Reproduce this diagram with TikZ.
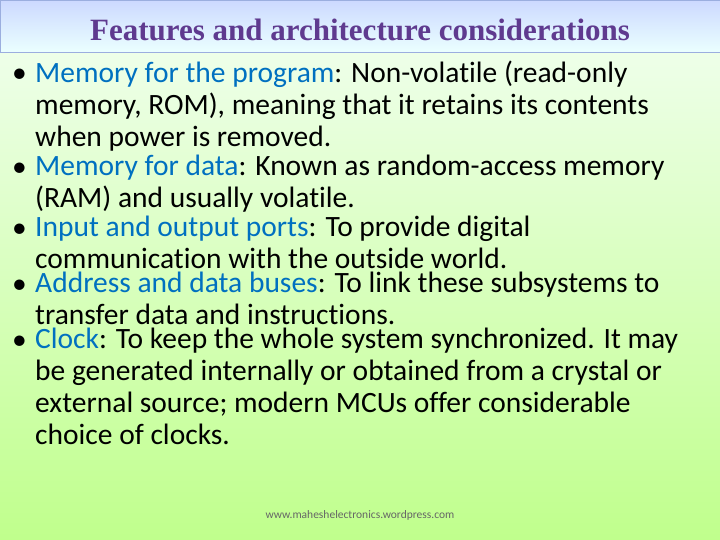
\documentclass[tikz,border=0pt]{standalone}
\usepackage{fontspec}
\setmainfont[Ligatures=NoCommon,Contextuals=NoAlternate]{Carlito}
\newfontfamily\titlefont{Liberation Serif}
\usetikzlibrary{positioning}
\definecolor{keyblue}{HTML}{0070C0}
\definecolor{titlepurple}{HTML}{5F3A8F}
\tikzset{
  item/.style={anchor=north west,align=left,inner sep=0pt,font=\fontsize{29.5}{32}\selectfont},
  dot/.style={anchor=north east,inner sep=0pt,font=\fontsize{29.5}{32}\selectfont}
}
\newcommand{\kw}[1]{\textcolor{keyblue}{#1}}
\begin{document}
\begin{tikzpicture}[x=1pt,y=-1pt]
\useasboundingbox (0,0) rectangle (720,540);
\shade[top color=white!60!green!12,bottom color=yellow!45!green!45] (0,0) rectangle (720,540);
\shade[top color=cyan!25!blue!20,bottom color=cyan!8,draw=cyan!40!blue!40] (0,0) rectangle (720,52);
\node (title) at (360,30) {\titlefont\bfseries\fontsize{31}{36}\selectfont\color{titlepurple}Features and architecture considerations};

\node[item] (i1) at (35,61) {\kw{Memory for the program}: Non-volatile (read-only\\memory, ROM), meaning that it retains its contents\\when power is removed.};
\node[item,below=3pt of i1.south west,anchor=north west] (i2) {\kw{Memory for data}: Known as random-access memory\\(RAM) and usually volatile.};
\node[item,below=3pt of i2.south west,anchor=north west] (i3) {\kw{Input and output ports}: To provide digital\\communication with the outside world.};
\node[item,below=3pt of i3.south west,anchor=north west] (i4) {\kw{Address and data buses}: To link these subsystems to\\transfer data and instructions.};
\node[item,below=3pt of i4.south west,anchor=north west] (i5) {\kw{Clock}: To keep the whole system synchronized. It may\\be generated internally or obtained from a crystal or\\external source; modern MCUs offer considerable\\choice of clocks.};
\foreach \i in {1,...,5}
  \node[dot,left=8pt of i\i.north west,anchor=north east] {\vphantom{(}•};

\node[text=black!60,font=\fontsize{11.5}{13}\selectfont] (web) at (360,515) {www.maheshelectronics.wordpress.com};
\end{tikzpicture}
\end{document}
